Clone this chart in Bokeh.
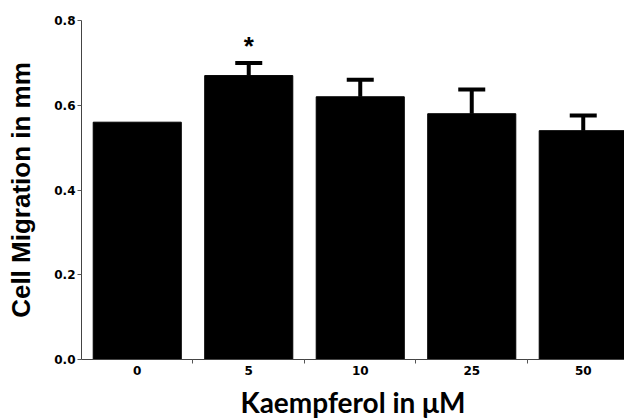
from bokeh.plotting import figure
from bokeh.models import Range1d, FixedTicker, ColumnDataSource, Whisker, TeeHead
from bokeh.core.properties import value
from bokeh.embed import file_html
from bokeh.resources import INLINE

categories = ["0", "5", "10", "25", "50"]
migration = [0.56, 0.67, 0.62, 0.58, 0.54]
errors = [0.0, 0.03, 0.04, 0.057, 0.036]
marks = ["", "*", "", "", ""]
y_ticks = [0.0, 0.2, 0.4, 0.6, 0.8]

xs = list(range(len(categories)))
upper = [m + e for m, e in zip(migration, errors)]
star_y = [u + 0.041 for u in upper]

src = ColumnDataSource(dict(x=xs, top=migration, star_y=star_y, mark=marks))
ex = [x for x, e in zip(xs, errors) if e > 0]
err_src = ColumnDataSource(dict(
    x=ex,
    lower=[m for m, e in zip(migration, errors) if e > 0],
    upper=[u for u, e in zip(upper, errors) if e > 0]))

p = figure(frame_width=543, frame_height=339, output_backend="svg", toolbar_location=None,
           x_range=Range1d(-0.5, 4.37), y_range=Range1d(0, 0.8),
           min_border_left=81, min_border_right=0, min_border_top=20, min_border_bottom=59)
p.outline_line_color = None
p.xgrid.visible = False
p.ygrid.visible = False

p.vbar(x="x", top="top", width=0.79, bottom=0, source=src, fill_color="black", line_color="black")

wh = Whisker(base="x", upper="upper", lower="lower", source=err_src,
             upper_head=TeeHead(size=27, line_width=4, line_color="black"),
             lower_head=None, line_width=4, line_color="black")
p.add_layout(wh)

p.text(x="x", y="star_y", text="mark", source=src, text_align="center", text_baseline="middle",
       text_font=value("Liberation Sans"), text_font_style="bold", text_font_size="26px",
       text_color="black")

p.xaxis.ticker = FixedTicker(ticks=xs, minor_ticks=[i + 0.5 for i in xs[:-1]])
p.xaxis.major_label_overrides = {i: c for i, c in zip(xs, categories)}
p.xaxis.major_tick_out = 0
p.xaxis.major_tick_in = 0
p.xaxis.minor_tick_out = 4
p.xaxis.minor_tick_in = 0
p.xaxis.minor_tick_line_color = "#555555"
p.xaxis.axis_line_color = "#444444"
p.xaxis.major_label_standoff = 2
p.xaxis.major_label_text_font = "DejaVu Sans"
p.xaxis.major_label_text_font_style = "bold"
p.xaxis.major_label_text_font_size = "12px"
p.xaxis.major_label_text_color = "black"
p.xaxis.axis_label = "Kaempferol in μM"
p.xaxis.axis_label_text_font = "Lato"
p.xaxis.axis_label_text_font_style = "bold"
p.xaxis.axis_label_text_font_size = "28px"
p.xaxis.axis_label_text_color = "black"
p.xaxis.axis_label_standoff = 7

p.yaxis.ticker = FixedTicker(ticks=y_ticks, minor_ticks=[])
p.yaxis.major_label_overrides = {t: f"{t:.1f}" for t in y_ticks}
p.yaxis.major_tick_out = 4
p.yaxis.major_tick_in = 0
p.yaxis.major_tick_line_color = "#555555"
p.yaxis.axis_line_color = "#444444"
p.yaxis.major_label_standoff = 2
p.yaxis.major_label_text_font = "DejaVu Sans"
p.yaxis.major_label_text_font_style = "bold"
p.yaxis.major_label_text_font_size = "12px"
p.yaxis.major_label_text_color = "black"
p.yaxis.axis_label = "Cell Migration in mm"
p.yaxis.axis_label_text_font = "Liberation Sans"
p.yaxis.axis_label_text_font_style = "bold"
p.yaxis.axis_label_text_font_size = "26px"
p.yaxis.axis_label_text_color = "black"
p.yaxis.axis_label_standoff = 15

open("out.html", "w").write(file_html(p, INLINE))
